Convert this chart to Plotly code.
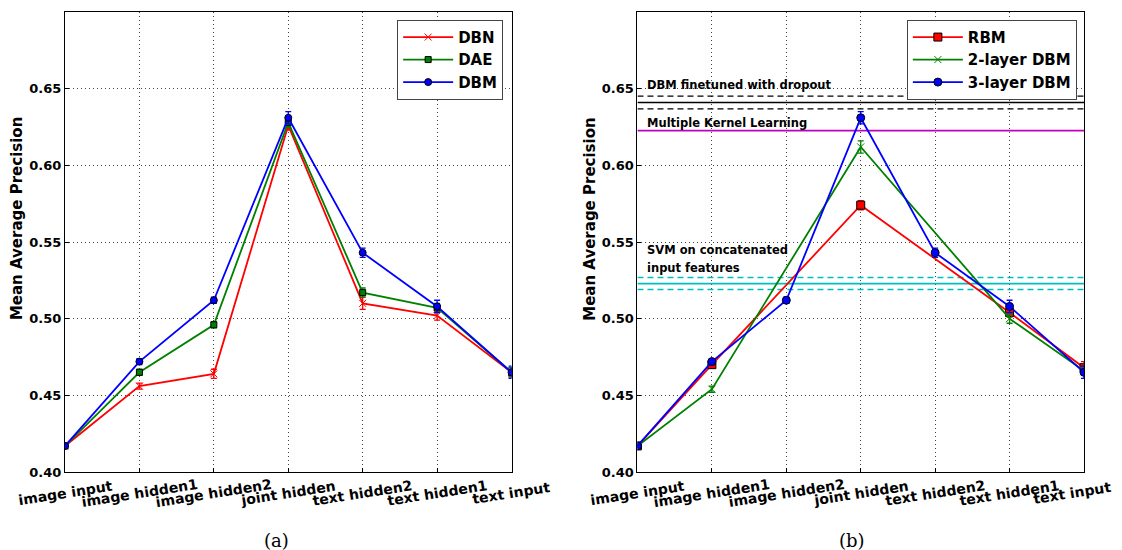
import plotly.graph_objects as go
from plotly.subplots import make_subplots

# ---------------- data ----------------
layers = ["image input", "image hidden1", "image hidden2", "joint hidden",
          "text hidden2", "text hidden1", "text input"]
layer_pos = [0, 1, 2, 3, 4, 5, 6]

# panel (a)
dbn = [0.417, 0.456, 0.464, 0.626, 0.510, 0.502, 0.465]
dbn_err = [0.001, 0.002, 0.003, 0.003, 0.004, 0.003, 0.003]
dae = [0.417, 0.465, 0.496, 0.628, 0.517, 0.507, 0.465]
dae_err = [0.001, 0.002, 0.002, 0.003, 0.003, 0.003, 0.003]
dbm = [0.417, 0.472, 0.512, 0.631, 0.543, 0.508, 0.465]
dbm_err = [0.001, 0.002, 0.002, 0.004, 0.003, 0.004, 0.004]

# panel (b)
rbm_pos = [0, 1, 3, 5, 6]
rbm = [0.417, 0.470, 0.574, 0.504, 0.468]
rbm_err = [0.001, 0.002, 0.003, 0.003, 0.004]
dbm2_pos = [0, 1, 3, 5, 6]
dbm2 = [0.417, 0.454, 0.612, 0.500, 0.466]
dbm2_err = [0.001, 0.002, 0.004, 0.003, 0.003]
dbm3 = [0.417, 0.472, 0.512, 0.631, 0.543, 0.508, 0.465]
dbm3_err = [0.001, 0.002, 0.002, 0.004, 0.003, 0.004, 0.004]

dropout_mean = 0.641
dropout_band = [0.6452, 0.6368]
mkl_value = 0.6227
svm_mean = 0.5228
svm_band = [0.5268, 0.5190]

y_ticks = [0.40, 0.45, 0.50, 0.55, 0.60, 0.65]
y_tick_text = ["0.40", "0.45", "0.50", "0.55", "0.60", "0.65"]

# ---------------- figure ----------------
RED, GREEN, BLUE = "#FF0000", "#008000", "#0000FF"
FONT = "DejaVu Sans"

fig = make_subplots(rows=1, cols=2, horizontal_spacing=0.1236)


def series(x, y, err, color, symbol, name, col, legend, msize=7, mline="black"):
    fig.add_trace(go.Scatter(
        x=x, y=y, name=name, mode="lines+markers",
        line=dict(color=color, width=1.8),
        marker=dict(symbol=symbol, size=msize, color=color,
                    line=dict(color=mline, width=1)),
        error_y=dict(type="data", array=err, color=color, thickness=1.3, width=3),
        legend=legend,
    ), row=1, col=col)


# panel (a)
series(layer_pos, dbn, dbn_err, RED, "x-thin", "DBN", 1, "legend", msize=7, mline=RED)
series(layer_pos, dae, dae_err, GREEN, "square", "DAE", 1, "legend", msize=6)
series(layer_pos, dbm, dbm_err, BLUE, "circle", "DBM", 1, "legend", msize=7)

# panel (b) reference lines
xs_full = [layer_pos[0], layer_pos[-1]]
for v in dropout_band:
    fig.add_trace(go.Scatter(x=xs_full, y=[v, v], mode="lines", showlegend=False,
                             line=dict(color="black", width=1.2, dash="6px,4px"),
                             hoverinfo="skip"), row=1, col=2)
fig.add_trace(go.Scatter(x=xs_full, y=[dropout_mean] * 2, mode="lines", showlegend=False,
                         line=dict(color="black", width=1.6), hoverinfo="skip"), row=1, col=2)
fig.add_trace(go.Scatter(x=xs_full, y=[mkl_value] * 2, mode="lines", showlegend=False,
                         line=dict(color="#BF00BF", width=1.8), hoverinfo="skip"), row=1, col=2)
for v in svm_band:
    fig.add_trace(go.Scatter(x=xs_full, y=[v, v], mode="lines", showlegend=False,
                             line=dict(color="#00BFBF", width=1.4, dash="6px,4px"),
                             hoverinfo="skip"), row=1, col=2)
fig.add_trace(go.Scatter(x=xs_full, y=[svm_mean] * 2, mode="lines", showlegend=False,
                         line=dict(color="#00BFBF", width=1.8), hoverinfo="skip"), row=1, col=2)

# panel (b) series
series(rbm_pos, rbm, rbm_err, RED, "square", "RBM", 2, "legend2", msize=8)
series(dbm2_pos, dbm2, dbm2_err, GREEN, "x-thin", "2-layer DBM", 2, "legend2", msize=7, mline=GREEN)
series(layer_pos, dbm3, dbm3_err, BLUE, "circle", "3-layer DBM", 2, "legend2", msize=8)

axis_common = dict(
    showline=True, mirror=True, linecolor="black", linewidth=1,
    showgrid=True, gridcolor="#444444", gridwidth=1, griddash="1px,3px",
    ticks="inside", ticklen=4, tickcolor="black", zeroline=False, automargin=False,
)

for c in (1, 2):
    fig.update_xaxes(range=[0, 6], tickvals=layer_pos, showticklabels=False,
                     row=1, col=c, **axis_common)
    fig.update_yaxes(range=[0.40, 0.70], tickvals=y_ticks, ticktext=y_tick_text,
                     tickfont=dict(family=FONT, size=13, color="black", weight="bold"),
                     row=1, col=c, **axis_common)

legend_style = dict(bgcolor="white", bordercolor="#444444", borderwidth=1,
                    font=dict(family=FONT, size=15, color="black", weight="bold"),
                    xanchor="right", yanchor="top", tracegroupgap=0, itemwidth=50)

# page body adds an 8px offset; figure sized so the plot areas land where the reference has them
fig.update_layout(
    width=1114, height=542,
    margin=dict(l=57, r=38, t=4, b=78, autoexpand=False),
    plot_bgcolor="white", paper_bgcolor="white",
    font=dict(family=FONT, color="black"),
    legend=dict(x=0.43, y=0.983, **legend_style),
    legend2=dict(x=0.993, y=0.983, **legend_style),
)

annotations = [
    dict(text="Mean Average Precision", x=-0.047, y=0.55, xref="paper", yref="paper",
         xanchor="center", yanchor="middle", textangle=-90, showarrow=False,
         font=dict(family=FONT, size=15, color="black", weight="bold")),
    dict(text="Mean Average Precision", x=0.515, y=0.55, xref="paper", yref="paper",
         xanchor="center", yanchor="middle", textangle=-90, showarrow=False,
         font=dict(family=FONT, size=15, color="black", weight="bold")),
    dict(text="(a)", x=0.208, y=-0.148, xref="paper", yref="paper", showarrow=False,
         xanchor="center", yanchor="middle",
         font=dict(family="DejaVu Serif", size=18, color="black")),
    dict(text="(b)", x=0.772, y=-0.148, xref="paper", yref="paper", showarrow=False,
         xanchor="center", yanchor="middle",
         font=dict(family="DejaVu Serif", size=18, color="black")),
]
tick_font = dict(family=FONT, size=14, color="black", weight="bold")
for xr in ("x", "x2"):
    for pos, lab in zip(layer_pos, layers):
        shift = -12 if (xr == "x2" and pos == layer_pos[-1]) else 0
        annotations.append(dict(text=lab, x=pos, y=-0.046, xref=xr, yref="paper",
                                xanchor="center", yanchor="middle", textangle=-9,
                                xshift=shift, showarrow=False, font=tick_font))
label_font = dict(family=FONT, size=11.5, color="black", weight="bold")
for txt, yv in [("DBM finetuned with dropout", 0.6526),
                ("Multiple Kernel Learning", 0.6279),
                ("SVM on concatenated", 0.5445),
                ("input features", 0.5328)]:
    annotations.append(dict(text=txt, x=0.1, y=yv, xref="x2", yref="y2",
                            xanchor="left", yanchor="middle", showarrow=False,
                            font=label_font))
fig.update_layout(annotations=annotations)

fig.write_html("out.html")
